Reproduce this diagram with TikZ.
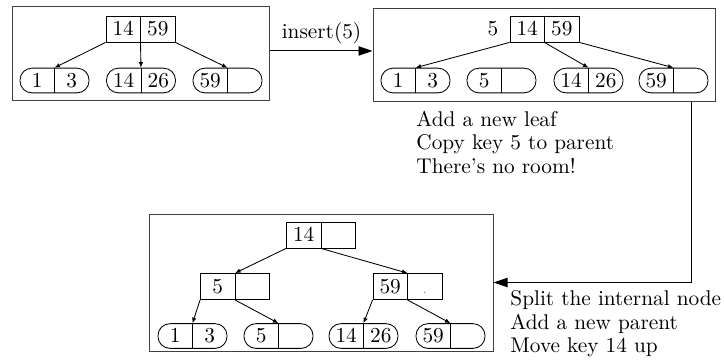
\documentclass[tikz,border=0pt]{standalone}
\usetikzlibrary{arrows.meta}

% internal B+ tree node: two boxed key cells
\newcommand\mkinode[4]{%
  \node[inode] (#1) at (#2) {};
  \draw (#1.north) -- (#1.south);
  \node[key, xshift=-8.1pt] (#1-l) at (#1.center) {#3};
  \node[key, xshift=8.1pt] (#1-r) at (#1.center) {#4};
}
% leaf node: rounded box with two key slots
\newcommand\mkleaf[4]{%
  \node[leaf] (#1) at (#2) {};
  \draw (#1.north) -- (#1.south);
  \node[key, xshift=-8.1pt] (#1-l) at (#1.center) {#3};
  \node[key, xshift=8.1pt] (#1-r) at (#1.center) {#4};
}

\begin{document}
\begin{tikzpicture}[x=0.4695pt, y=-0.4695pt,
  frame/.style={draw=black!75, line width=0.45pt, inner sep=0pt},
  inode/.style={draw, line width=0.4pt, minimum width=32.4pt, minimum height=12.2pt, inner sep=0pt},
  leaf/.style={draw, line width=0.4pt, rounded corners=5.6pt, minimum width=32.4pt, minimum height=11.6pt, inner sep=0pt},
  key/.style={inner sep=0pt, text height=6.44pt, text depth=0pt},
  ptr/.style={-{Latex[length=2.6pt,width=2.1pt]}, line width=0.4pt},
  big/.style={-{Triangle[length=6.6pt,width=4.4pt]}, line width=0.45pt},
  note/.style={anchor=base west, inner sep=0pt}]
\useasboundingbox (0,0) rectangle (724,361);

% ---------- before the insertion ----------
\node[frame, minimum width=121.1pt, minimum height=43.7pt] (box1) at (141,53.5) {};
\mkinode{a}{140.5,29}{14}{59}
\mkleaf{a1}{54.5,80.5}{1}{3}
\mkleaf{a2}{141,80.5}{14}{26}
\mkleaf{a3}{227.5,80.5}{59}{}
\draw[ptr] (a.south west) -- (a1.north);
\draw[ptr] (a.south) -- (a2.north);
\draw[ptr] (a.south east) -- (a3.north);

% ---------- new leaf, key 5 pushed up ----------
\node[frame, minimum width=161.0pt, minimum height=44.1pt] (box2) at (544.5,55) {};
\mkinode{b}{544.5,29}{14}{59}
\node[key] (b-new) at (493,29) {5};
\mkleaf{b1}{415.5,80.5}{1}{3}
\mkleaf{b2}{501.5,80.5}{5}{}
\mkleaf{b3}{588.5,80.5}{14}{26}
\mkleaf{b4}{673.5,80.5}{59}{}
\draw[ptr] (b.south west) -- (b1.north);
\draw[ptr] (b.south) -- (b3.north);
\draw[ptr] (b.south east) -- (b4.north);

% ---------- after splitting the internal node ----------
\node[frame, minimum width=161.5pt, minimum height=64.3pt] (box3) at (321,282.5) {};
\mkinode{c}{321,235}{14}{}
\mkinode{cl}{235,286.5}{5}{}
\mkinode{cr}{407.5,286.5}{59}{\color{black!60}\tiny.}
\mkleaf{c1}{192.5,336}{1}{3}
\mkleaf{c2}{278.5,336}{5}{}
\mkleaf{c3}{363.5,336}{14}{26}
\mkleaf{c4}{450.5,336}{59}{}
\draw[ptr] (c.south west) -- (cl.north);
\draw[ptr] (c.south) -- (cr.north);
\draw[ptr] (cl.south west) -- (c1.north);
\draw[ptr] (cl.south) -- (c2.north);
\draw[ptr] (cr.south west) -- (c3.north);
\draw[ptr] (cr.south) -- (c4.north);

% ---------- steps ----------
\draw[big] ([yshift=1.2pt]box1.east) -- node[above, inner sep=3pt] (lbl) {insert(5)} ([yshift=1.2pt]box1.east -| box2.west);
\coordinate (bend) at (691,282.5);
\draw[big] (bend |- box2.south) |- (box3.east);

\node[note] (n1) at (416,126) {Add a new leaf};
\node[note] (n2) at (416,149.5) {Copy key 5 to parent};
\node[note] (n3) at (416,173) {There's no room!};
\node[note] (n4) at (510,305.5) {Split the internal node};
\node[note] (n5) at (510,329) {Add a new parent};
\node[note] (n6) at (510,352.5) {Move key 14 up};
\end{tikzpicture}
\end{document}
